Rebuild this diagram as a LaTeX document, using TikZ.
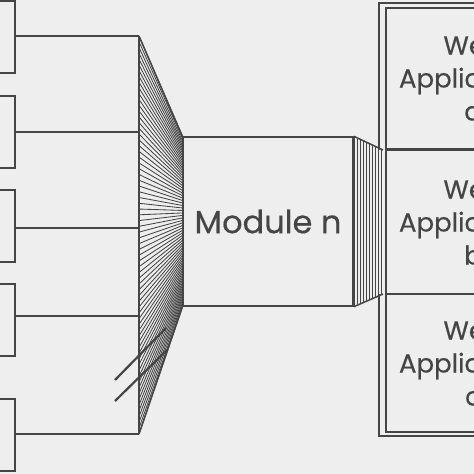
\documentclass[tikz,border=0pt]{standalone}
\usepackage{fontspec}
\setmainfont{Poppins}
\newfontfamily\diagfont{Poppins}[FakeBold=0.4]
\begin{document}
\begin{tikzpicture}[x=1pt,y=-1pt]
\definecolor{ink}{gray}{0.27}
\definecolor{paper}{gray}{0.935}
\tikzset{
  lbox/.style={draw=ink, line width=1.8pt, minimum width=40pt, minimum height=72pt, inner sep=0pt},
  wire/.style={draw=ink, line width=2.8pt},
  fanline/.style={draw=ink, line width=0.85pt},
  modbox/.style={draw=ink, line width=1.5pt, minimum width=170pt, minimum height=169pt, inner sep=0pt,
    text=ink, font=\diagfont\fontsize{32}{38}\selectfont},
  wbox/.style={draw=ink, line width=2pt, minimum width=174pt, inner sep=0pt, align=center,
    text=ink, font=\diagfont\fontsize{26}{33}\selectfont},
  outer/.style={draw=ink, line width=1.5pt},
  slash/.style={draw=ink, line width=2.2pt}
}
\useasboundingbox (0,0) rectangle (474,474);
\fill[paper] (0,0) rectangle (474,474);
\clip (0,0) rectangle (474,474);

% left boxes
\node[lbox] (L1) at (-5,37) {};
\node[lbox] (L2) at (-5,132) {};
\node[lbox] (L3) at (-5,226) {};
\node[lbox] (L4) at (-5,320) {};
\node[lbox] (L5) at (-5,435) {};

% bus points
\coordinate (B1) at (139,36);
\coordinate (B2) at (139,132);
\coordinate (B3) at (139,228);
\coordinate (B4) at (139,316);
\coordinate (B5) at (139,434);

\draw[wire] (B1 -| L1.east) -- (B1);
\draw[wire] (B2 -| L2.east) -- (B2);
\draw[wire] (B3 -| L3.east) -- (B3);
\draw[wire] (B4 -| L4.east) -- (B4);
\draw[wire] (B5 -| L5.east) -- (B5);
\draw[wire] (B1) -- (B5);

% module
\node[modbox] (M) at (268,221.5) {Module n};

% fan-in
\foreach \i in {0,...,69} {
  \draw[fanline] (139,{36+\i/69*398}) -- (183,{137+\i/69*169});
}
\draw[fanline, line width=1.5pt] (B1) -- (M.north west);
\draw[fanline, line width=1.5pt] (B5) -- (M.south west);

% two slashes
\draw[slash] (115,380) -- (166,328);
\draw[slash] (115,401) -- (167,350);

% fan-out bundle
\foreach \x in {354,357,...,381} {
  \draw[fanline] (\x,{137+(\x-353)/30*13}) -- (\x,{306-(\x-353)/30*12});
}
\draw[fanline, line width=1.5pt] (M.north east) -- (383,150);
\draw[fanline, line width=1.5pt] (M.south east) -- (383,294);

% right boxes
\node[wbox, minimum height=141pt] (W1) at (473,78) {Web\\Application\\a};
\node[wbox, minimum height=144pt] (W2) at (473,222) {Web\\Application\\b};
\node[wbox, minimum height=138pt] (W3) at (473,363) {Web\\Application\\c};
\draw[outer] (379,150) -- (379,3) -- (560,3);
\draw[outer] (379,294) -- (379,436) -- (560,436);
\end{tikzpicture}
\end{document}
